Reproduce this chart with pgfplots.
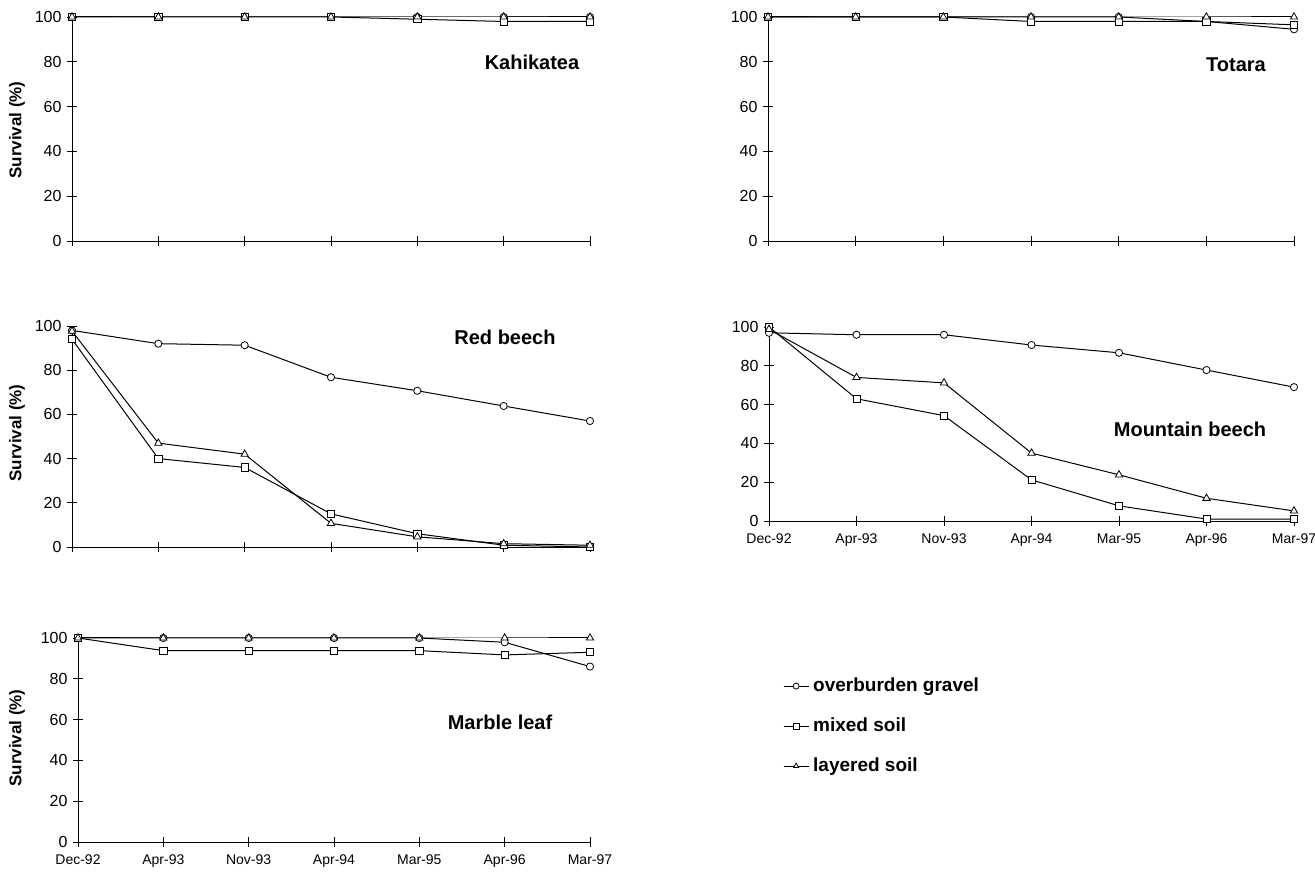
\documentclass[border=0pt]{standalone}
\usepackage{fontspec}
\setmainfont{Liberation Sans}
\usepackage{pgfplots}
\pgfplotsset{compat=1.18}

\pgfplotsset{
 panel/.style={
  scale only axis, clip=false,
  xmin=0, xmax=6, ymin=0, ymax=100,
  axis lines=left, axis line style={-, line width=0.8pt, black},
  xtick={0,...,6}, ytick={0,20,...,100},
  tick align=center, major tick length=10pt,
  tick style={line width=0.8pt, black},
  /pgf/number format/assume math mode=true,
  yticklabel style={font=\fontsize{16}{18}\selectfont, xshift=-2pt},
  xticklabel style={font=\fontsize{14}{16}\selectfont, yshift=-4pt},
  xticklabels={,,,,,,},
  anchor=south west,
 },
 xlab/.style={xticklabels={Dec-92,Apr-93,Nov-93,Apr-94,Mar-95,Apr-96,Mar-97}},
 sO/.style={black, line width=1pt, mark=*, mark size=3.6pt, mark options={fill=white, line width=0.8pt}},
 sS/.style={black, line width=1pt, mark=square*, mark size=3.6pt, mark options={fill=white, line width=0.8pt}},
 sT/.style={black, line width=1pt, mark=triangle*, mark size=4.2pt, mark options={fill=white, line width=0.8pt}},
}

\begin{document}
\begin{tikzpicture}
\path[use as bounding box] (0pt,0pt) rectangle (1315pt,877pt);

% Kahikatea
\begin{axis}[panel, at={(72pt,636pt)}, width=518pt, height=224pt]
\addplot[sO] coordinates {(0,100)(1,100)(2,100)(3,100)(4,100)(5,100)(6,100)};
\addplot[sS] coordinates {(0,100)(1,100)(2,100)(3,100)(4,99)(5,98)(6,98)};
\addplot[sT] coordinates {(0,100)(1,100)(2,100)(3,100)(4,100)(5,100)(6,100)};
\end{axis}

% Totara
\begin{axis}[panel, at={(768pt,636pt)}, width=526pt, height=224pt]
\addplot[sO] coordinates {(0,100)(1,100)(2,100)(3,100)(4,100)(5,98)(6,94.5)};
\addplot[sS] coordinates {(0,100)(1,100)(2,100)(3,98)(4,98)(5,98)(6,96.5)};
\addplot[sT] coordinates {(0,100)(1,100)(2,100)(3,100)(4,100)(5,100)(6,100)};
\end{axis}

% Red beech
\begin{axis}[panel, at={(72pt,330pt)}, width=518pt, height=221pt]
\addplot[sO] coordinates {(0,98)(1,92)(2,91.3)(3,76.8)(4,70.7)(5,63.8)(6,57)};
\addplot[sS] coordinates {(0,94)(1,40)(2,36)(3,15)(4,6)(5,0.8)(6,0)};
\addplot[sT] coordinates {(0,97.7)(1,47)(2,42)(3,10.7)(4,4.6)(5,1.5)(6,0.8)};
\end{axis}

% Mountain beech
\begin{axis}[panel, xlab, at={(769pt,356pt)}, width=525pt, height=194pt]
\addplot[sO] coordinates {(0,97)(1,96)(2,96)(3,90.7)(4,86.7)(5,77.8)(6,69)};
\addplot[sS] coordinates {(0,100)(1,63)(2,54.3)(3,21.2)(4,7.8)(5,1)(6,1)};
\addplot[sT] coordinates {(0,98.8)(1,74)(2,71.2)(3,35)(4,23.8)(5,11.7)(6,5.2)};
\end{axis}

% Marble leaf
\begin{axis}[panel, xlab, at={(78pt,35pt)}, width=512pt, height=204pt,
  legend style={at={(1.371,0.824)}, anchor=north west, draw=none, fill=none,
    font=\bfseries\fontsize{19}{22}\selectfont, row sep=20pt,
    nodes={inner sep=1pt, text height=14pt, text depth=4pt}},
  legend cell align=left,
  legend image code/.code={\draw[mark repeat=2,mark phase=2,mark size=3pt]
     plot coordinates {(0pt,0pt) (12.5pt,0pt) (25pt,0pt)};
     \path (28pt,0pt);}]
\addplot[sO] coordinates {(0,100)(1,100)(2,100)(3,100)(4,100)(5,97.9)(6,86)};
\addlegendentry{overburden gravel}
\addplot[sS] coordinates {(0,100)(1,93.8)(2,93.8)(3,93.8)(4,93.8)(5,91.7)(6,93)};
\addlegendentry{mixed soil}
\addplot[sT] coordinates {(0,100)(1,100)(2,100)(3,100)(4,100)(5,100)(6,100)};
\addlegendentry{layered soil}
\end{axis}

% panel titles
\node[font=\bfseries\fontsize{20}{24}\selectfont] at (532pt,815pt) {Kahikatea};
\node[font=\bfseries\fontsize{20}{24}\selectfont] at (1236pt,812pt) {Totara};
\node[font=\bfseries\fontsize{20}{24}\selectfont] at (505pt,540pt) {Red beech};
\node[font=\bfseries\fontsize{20}{24}\selectfont] at (1190pt,448pt) {Mountain beech};
\node[font=\bfseries\fontsize{20}{24}\selectfont] at (500pt,155pt) {Marble leaf};

% y labels
\node[font=\bfseries\fontsize{17}{20}\selectfont, rotate=90] at (17pt,747pt) {Survival (\%)};
\node[font=\bfseries\fontsize{17}{20}\selectfont, rotate=90] at (17pt,444pt) {Survival (\%)};
\node[font=\bfseries\fontsize{17}{20}\selectfont, rotate=90] at (17pt,139pt) {Survival (\%)};
\end{tikzpicture}
\end{document}
